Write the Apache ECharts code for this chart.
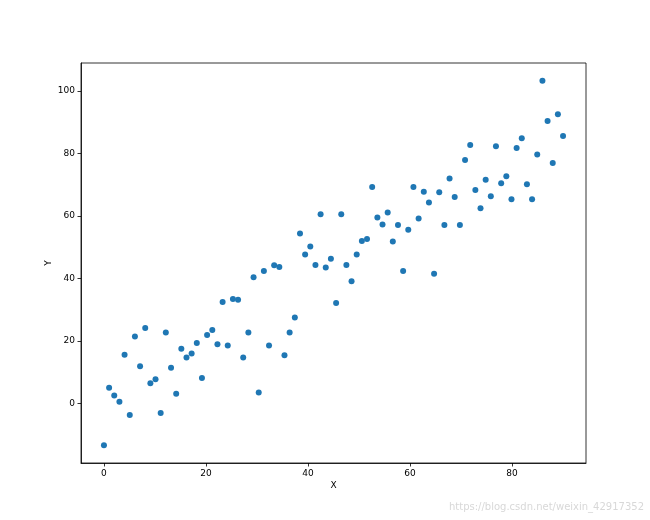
<!DOCTYPE html>
<html><head><meta charset="utf-8">
<script src="https://cdn.jsdelivr.net/npm/echarts@6/dist/echarts.min.js"></script>
<style>html,body{margin:0;padding:0;background:#fff}#c{width:650px;height:520px}</style>
</head><body><div id="c"></div>
<script>
const xValues = [0, 1.01, 2.02, 3.03, 4.04, 5.06, 6.07, 7.08, 8.09, 9.10, 10.11, 11.12, 12.13, 13.15, 14.16, 15.17, 16.18, 17.19, 18.20, 19.21, 20.22, 21.24, 22.25, 23.26, 24.27, 25.28, 26.29, 27.30, 28.31, 29.33, 30.34, 31.35, 32.36, 33.37, 34.38, 35.39, 36.40, 37.42, 38.43, 39.44, 40.45, 41.46, 42.47, 43.48, 44.49, 45.51, 46.52, 47.53, 48.54, 49.55, 50.56, 51.57, 52.58, 53.60, 54.61, 55.62, 56.63, 57.64, 58.65, 59.66, 60.67, 61.69, 62.70, 63.71, 64.72, 65.73, 66.74, 67.75, 68.76, 69.78, 70.79, 71.80, 72.81, 73.82, 74.83, 75.84, 76.85, 77.87, 78.88, 79.89, 80.90, 81.91, 82.92, 83.93, 84.94, 85.96, 86.97, 87.98, 88.99, 90];
const yValues = [-13.4, 5.0, 2.5, 0.5, 15.6, -3.7, 21.4, 11.9, 24.1, 6.4, 7.7, -3.1, 22.7, 11.4, 3.1, 17.5, 14.7, 16.0, 19.3, 8.1, 21.9, 23.5, 18.9, 32.5, 18.5, 33.4, 33.2, 14.7, 22.7, 40.4, 3.5, 42.4, 18.5, 44.2, 43.7, 15.4, 22.7, 27.5, 54.4, 47.7, 50.2, 44.3, 60.6, 43.5, 46.3, 32.1, 60.6, 44.3, 39.1, 47.7, 52.0, 52.6, 69.3, 59.5, 57.3, 61.1, 51.8, 57.1, 42.4, 55.6, 69.3, 59.2, 67.8, 64.3, 41.5, 67.6, 57.1, 72.0, 66.1, 57.1, 77.9, 82.7, 68.3, 62.5, 71.6, 66.3, 82.3, 70.5, 72.7, 65.4, 81.8, 84.9, 70.2, 65.4, 79.7, 103.3, 90.4, 77.0, 92.6, 85.6];
const xTicks = [0, 20, 40, 60, 80];
const yTicks = [0, 20, 40, 60, 80, 100];
const xName = 'X';
const yName = 'Y';
const watermark = 'https://blog.csdn.net/weixin_42917352';

const pts = xValues.map((x, i) => [x, yValues[i]]);
const font = 'DejaVu Sans';
const chart = echarts.init(document.getElementById('c'), null, {renderer: 'canvas'});
const axisCommon = {
  axisLine: {show: true, onZero: false, lineStyle: {color: '#000', width: 0.8}},
  axisTick: {show: true, inside: false, length: 3.5, lineStyle: {color: '#000', width: 0.8}},
  splitLine: {show: false},
  nameMoveOverlap: false,
  nameTextStyle: {fontFamily: font, fontSize: 9, color: '#000'}
};
chart.setOption({
  animation: false,
  backgroundColor: '#fff',
  grid: {left: 81, right: 64, top: 63, bottom: 57, show: true, borderColor: '#000', borderWidth: 0.8, containLabel: false},
  xAxis: Object.assign({}, axisCommon, {
    type: 'value', min: -4.5, max: 94.5,
    name: xName, nameLocation: 'middle', nameGap: 18,
    axisTick: Object.assign({}, axisCommon.axisTick, {customValues: xTicks}),
    axisLabel: {customValues: xTicks, fontFamily: font, fontSize: 9, color: '#000', margin: 6}
  }),
  yAxis: Object.assign({}, axisCommon, {
    type: 'value', min: -19.1, max: 109.0,
    name: yName, nameLocation: 'middle', nameGap: 28,
    axisTick: Object.assign({}, axisCommon.axisTick, {customValues: yTicks}),
    axisLabel: {customValues: yTicks, fontFamily: font, fontSize: 9, color: '#000', margin: 6}
  }),
  series: [{
    type: 'scatter', data: pts, symbol: 'circle', symbolSize: 6,
    itemStyle: {color: '#1f77b4', opacity: 1}
  }],
  graphic: [{
    type: 'text', right: 6, top: 502,
    style: {text: watermark, fill: '#d8d8d8', font: '10px "DejaVu Sans"'}
  }]
});
</script></body></html>
